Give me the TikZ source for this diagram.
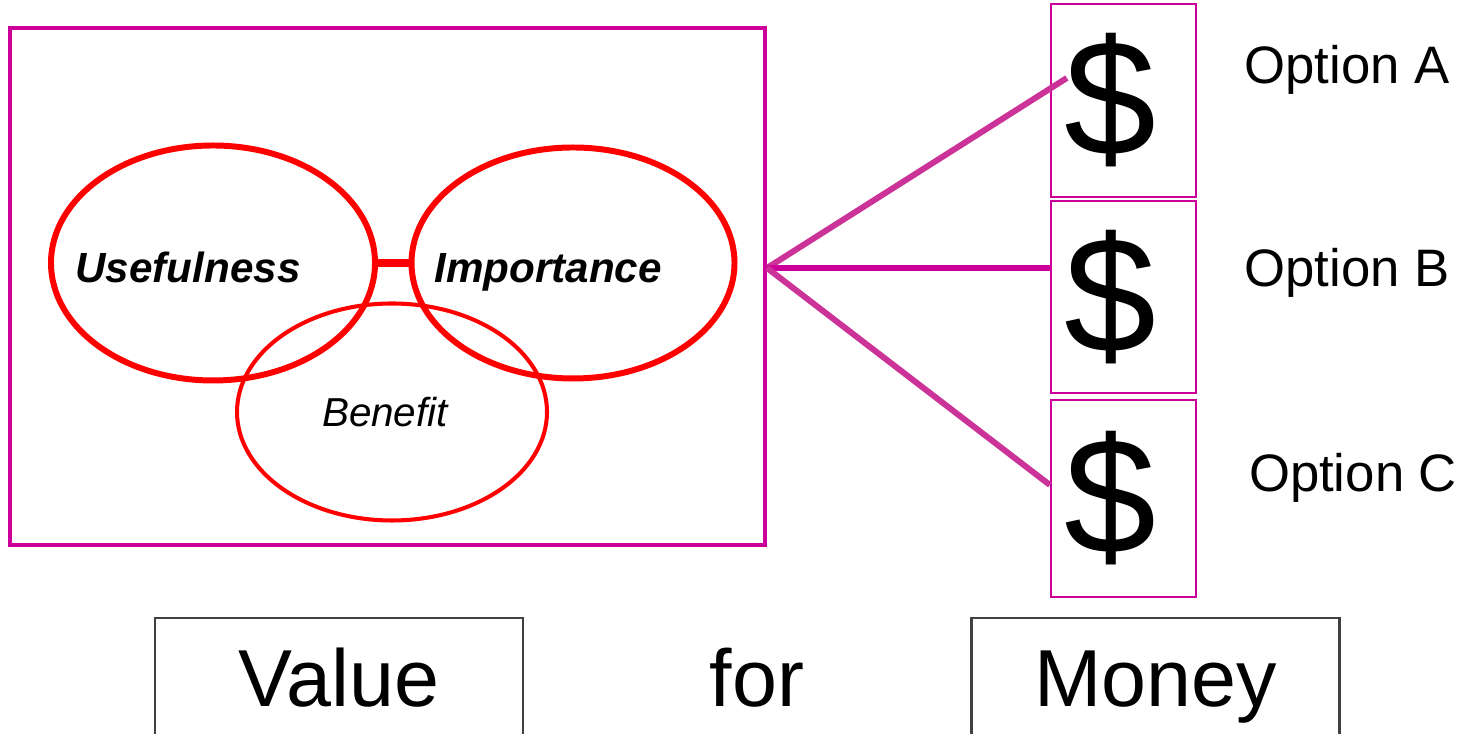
\documentclass[tikz,border=0pt]{standalone}
\usepackage{fontspec}
\setmainfont{Liberation Sans}
\usetikzlibrary{shapes.geometric,calc}
\definecolor{framemag}{RGB}{204,0,153}
\definecolor{linkmag}{RGB}{204,51,153}
\definecolor{ringred}{RGB}{255,0,0}
\tikzset{
  frame/.style={draw=framemag, line width=1.15pt, minimum width=75.5mm, minimum height=51.7mm},
  ring/.style={ellipse, draw=ringred, line width=1.7pt, inner sep=0pt},
  ringtext/.style={font=\fontsize{12}{14}\selectfont\bfseries\itshape,
    text height=7.6pt, text depth=0pt},
  paybox/.style={draw=framemag, line width=0.65pt, fill=white, inner sep=0pt,
    minimum width=14.5mm, font=\fontsize{47}{47}\selectfont},
  link/.style={draw=linkmag, line width=1.7pt},
  optlabel/.style={font=\fontsize{15}{18}\selectfont},
  wordbox/.style={draw=black!75, line width=0.6pt, minimum width=36.8mm, minimum height=16mm},
  bigword/.style={font=\fontsize{23}{26}\selectfont, text height=16.6pt, text depth=0pt}
}

\begin{document}
\begin{tikzpicture}
  \useasboundingbox (0,0) rectangle (14.62,7.34);
  \clip (0,0) rectangle (14.62,7.34);

  % value side
  \node[frame] (frame) at (3.875,4.475) {};
  \node[ring, minimum width=32.4mm, minimum height=23.5mm,
    label={[ringtext, xshift=-2.5mm, yshift=-0.6mm]center:Usefulness}] (useful) at (2.13,4.71) {};
  \node[ring, minimum width=32.3mm, minimum height=23.1mm,
    label={[ringtext, xshift=-2.5mm, yshift=-0.6mm]center:Importance}] (import) at (5.73,4.71) {};
  \node[ring, line width=1.15pt, minimum width=31mm, minimum height=21.7mm,
    label={[font=\fontsize{11.5}{14}\selectfont\itshape, xshift=-0.7mm]center:Benefit}]
    (benefit) at (3.92,3.22) {};
  \draw[ringred, line width=2.3pt] (useful.east) -- (import.west);

  % money side
  \node[paybox, minimum height=19.3mm] (dolA) at (11.235,6.335) {\$\hspace*{2.6mm}};
  \node[paybox, minimum height=19.2mm] (dolB) at (11.235,4.37) {\$\hspace*{2.6mm}};
  \node[paybox, minimum height=19.7mm] (dolC) at (11.235,2.355) {\$\hspace*{2.6mm}};
  \node[optlabel] (optA) at (13.47,6.64) {Option A};
  \node[optlabel] (optB) at (13.47,4.61) {Option B};
  \node[optlabel] (optC) at (13.53,2.56) {Option C};

  \coordinate (hub) at ($(frame.east)+(0,0.185)$);
  \draw[link] (hub) -- ($(dolA.west)+(0.17,0.225)$);
  \draw[link, draw=framemag] (hub) -- (dolB.west |- hub);
  \draw[link] (hub) -- ($(dolC.west)+(0,0.135)$);

  % bottom words
  \node[wordbox, label={[bigword, yshift=2.1mm]center:Value}] (value) at (3.39,0.36) {};
  \node[bigword] (for) at (7.57,0.57) {for};
  \node[wordbox, label={[bigword, yshift=2.1mm]center:Money}] (money) at (11.555,0.36) {};
\end{tikzpicture}
\end{document}
